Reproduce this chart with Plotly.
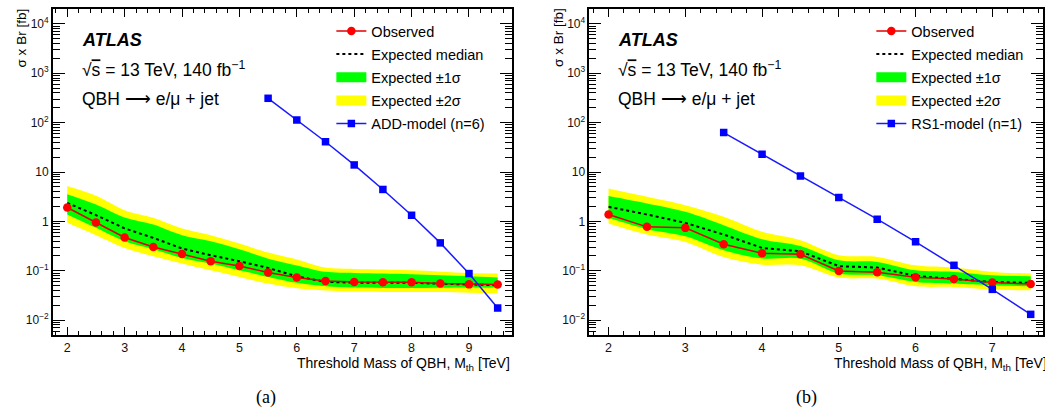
import plotly.graph_objects as go

W, H = 1045, 410

# ---------------- data: panel (a) ADD model ----------------
mass_a = [2.0, 2.5, 3.0, 3.5, 4.0, 4.5, 5.0, 5.5, 6.0, 6.5, 7.0, 7.5, 8.0, 8.5, 9.0, 9.5]
obs_a = [1.91, 0.95, 0.471, 0.304, 0.219, 0.156, 0.125, 0.092, 0.073, 0.062, 0.059, 0.0585, 0.0585, 0.055, 0.053, 0.0525]
exp_a = [2.37, 1.34, 0.72, 0.463, 0.282, 0.206, 0.156, 0.114, 0.077, 0.0595, 0.0575, 0.057, 0.057, 0.0545, 0.052, 0.051]
p2_a = [5.18, 3.30, 1.69, 1.18, 0.716, 0.525, 0.356, 0.233, 0.17, 0.116, 0.109, 0.106, 0.102, 0.096, 0.090, 0.0877]
p1_a = [3.56, 2.20, 1.20, 0.863, 0.525, 0.396, 0.273, 0.176, 0.128, 0.095, 0.090, 0.0877, 0.085, 0.081, 0.0774, 0.0728]
m1_a = [1.38, 0.739, 0.396, 0.273, 0.182, 0.140, 0.102, 0.075, 0.057, 0.0485, 0.0456, 0.0449, 0.0449, 0.0455, 0.046, 0.046]
m2_a = [0.933, 0.525, 0.290, 0.197, 0.140, 0.102, 0.075, 0.055, 0.044, 0.040, 0.0378, 0.0372, 0.0372, 0.037, 0.036, 0.0355]
model_mass_a = [5.5, 6.0, 6.5, 7.0, 7.5, 8.0, 8.5, 9.0, 9.5]
model_a = [311, 113, 41, 13.9, 4.43, 1.33, 0.367, 0.0877, 0.0176]

# ---------------- data: panel (b) RS1 model ----------------
mass_b = [2.0, 2.5, 3.0, 3.5, 4.0, 4.5, 5.0, 5.5, 6.0, 6.5, 7.0, 7.5]
obs_b = [1.38, 0.775, 0.739, 0.345, 0.226, 0.216, 0.0993, 0.0933, 0.0738, 0.0684, 0.0576, 0.0541]
exp_b = [1.97, 1.38, 0.933, 0.541, 0.290, 0.248, 0.124, 0.116, 0.0787, 0.0694, 0.0594, 0.0567]
p2_b = [4.64, 3.15, 2.13, 1.24, 0.614, 0.416, 0.207, 0.191, 0.129, 0.116, 0.0948, 0.0877]
p1_b = [3.25, 2.30, 1.56, 0.838, 0.436, 0.319, 0.163, 0.151, 0.102, 0.0948, 0.081, 0.0774]
m1_b = [1.18, 0.695, 0.501, 0.261, 0.177, 0.177, 0.0877, 0.081, 0.0594, 0.055, 0.0508, 0.0485]
m2_b = [0.906, 0.541, 0.384, 0.190, 0.133, 0.129, 0.0728, 0.0694, 0.0485, 0.047, 0.0415, 0.0403]
model_mass_b = [3.5, 4.0, 4.5, 5.0, 5.5, 6.0, 6.5, 7.0, 7.5]
model_b = [63, 22.8, 8.34, 3.06, 1.11, 0.385, 0.129, 0.042, 0.0131]

# ---------------- tick labels ----------------
y_tickvals = [0.01, 0.1, 1, 10, 100, 1000, 10000]
y_ticktext = ["10<sup>−2</sup>", "10<sup>−1</sup>", "1", "10", "10<sup>2</sup>", "10<sup>3</sup>", "10<sup>4</sup>"]
x_tickvals_a = [2, 3, 4, 5, 6, 7, 8, 9]
x_tickvals_b = [2, 3, 4, 5, 6, 7]

model_names = ["ADD-model (n=6)", "RS1-model (n=1)"]
panel_labels = ["(a)", "(b)"]

FONT = "Liberation Sans, Arial, sans-serif"
YELLOW = "#ffff00"
GREEN = "#00ff00"


def px(xp):
    return xp / W


def py(yp):
    return 1 - yp / H


fig = go.Figure()


def add_panel(mass, obs, exp, p2, p1, m1, m2, mmass, model, mname, xa, ya, leg):
    common = dict(xaxis=xa, yaxis=ya, legend=leg, hoverinfo="skip")
    edge = dict(width=0, shape="spline", smoothing=0.9)
    fig.add_trace(go.Scatter(x=mass, y=m2, mode="lines", line=edge, showlegend=False, **common))
    fig.add_trace(go.Scatter(x=mass, y=p2, mode="lines", line=edge, fill="tonexty", fillcolor=YELLOW,
                             showlegend=False, **common))
    fig.add_trace(go.Scatter(x=mass, y=m1, mode="lines", line=edge, showlegend=False, **common))
    fig.add_trace(go.Scatter(x=mass, y=p1, mode="lines", line=edge, fill="tonexty", fillcolor=GREEN,
                             showlegend=False, **common))
    fig.add_trace(go.Scatter(x=mass, y=exp, mode="lines", line=dict(color="black", width=2, dash="3px,3px"),
                             name="Expected median", legendgroup=leg + "e", legendrank=2, **common))
    fig.add_trace(go.Scatter(x=mass, y=obs, mode="lines+markers", line=dict(color="#e00000", width=1.5),
                             marker=dict(symbol="circle", size=8.5, color="#ff0000"),
                             name="Observed", legendgroup=leg + "o", legendrank=1, **common))
    fig.add_trace(go.Scatter(x=mmass, y=model, mode="lines+markers", line=dict(color="#1a1aff", width=1.5),
                             marker=dict(symbol="square", size=7.5, color="#0000ff"),
                             name=mname, legendgroup=leg + "m", legendrank=5, **common))
    # legend swatches for the bands (legend-only entries)
    fig.add_trace(go.Scatter(x=[None], y=[None], mode="lines", line=dict(color=GREEN, width=10),
                             name="Expected ±1σ", legendgroup=leg + "g", legendrank=3, **common))
    fig.add_trace(go.Scatter(x=[None], y=[None], mode="lines", line=dict(color=YELLOW, width=10),
                             name="Expected ±2σ", legendgroup=leg + "y", legendrank=4, **common))


add_panel(mass_a, obs_a, exp_a, p2_a, p1_a, m1_a, m2_a, model_mass_a, model_a, model_names[0], "x", "y", "legend")
add_panel(mass_b, obs_b, exp_b, p2_b, p1_b, m1_b, m2_b, model_mass_b, model_b, model_names[1], "x2", "y2", "legend2")

ydom = [py(335), py(9)]
yrange = [-2.301, 4.301]


def xaxis(domain, rng, tickvals, anchor):
    return dict(domain=domain, range=rng, anchor=anchor, showgrid=False, zeroline=False,
                showline=True, linecolor="black", linewidth=1.6, mirror="allticks",
                ticks="inside", ticklen=8, tickwidth=1, tickcolor="black",
                tickvals=tickvals, ticktext=[str(v) for v in tickvals],
                tickfont=dict(family=FONT, size=12.5, color="#111"),
                minor=dict(dtick=0.2, tick0=0, ticks="inside", ticklen=4, tickwidth=1, tickcolor="black"))


def yaxis(anchor):
    return dict(domain=ydom, type="log", range=yrange, anchor=anchor, showgrid=False, zeroline=False,
                showline=True, linecolor="black", linewidth=1.6, mirror="allticks",
                ticks="inside", ticklen=12, tickwidth=1, tickcolor="black",
                tickvals=y_tickvals, ticktext=y_ticktext,
                tickfont=dict(family=FONT, size=12, color="#111"),
                minor=dict(dtick="D1", ticks="inside", ticklen=7, tickwidth=1, tickcolor="black"))


xr_b_end = 1.75 + (W - 590.5) / 76.9

legend_common = dict(xanchor="left", yanchor="top", bgcolor="rgba(0,0,0,0)",
                     font=dict(family=FONT, size=14.5, color="black"),
                     tracegroupgap=1.3, traceorder="grouped", itemwidth=30)

fig.update_layout(
    width=W, height=H, margin=dict(l=0, r=0, t=0, b=0),
    paper_bgcolor="white", plot_bgcolor="white",
    xaxis=xaxis([px(53), px(513)], [1.75, 9.75], x_tickvals_a, "y"),
    yaxis=yaxis("x"),
    xaxis2=xaxis([px(590.5), 1.0], [1.75, xr_b_end], x_tickvals_b, "y2"),
    yaxis2=yaxis("x2"),
    legend=dict(x=px(332), y=py(15), **legend_common),
    legend2=dict(x=px(873), y=py(15), **legend_common),
    font=dict(family=FONT, color="black"),
)

ann = []
for (x0, xr) in [(53, 513), (590.5, 1051.5)]:
    ann.append(dict(text="<b><i>ATLAS</i></b>", x=px(x0 + 27), y=py(40), xref="paper", yref="paper",
                    xanchor="left", yanchor="middle", showarrow=False, font=dict(family=FONT, size=18)))
    ann.append(dict(text="√<span style='text-decoration:overline'>s</span> = 13 TeV, 140 fb<sup>−1</sup>",
                    x=px(x0 + 27), y=py(69), xref="paper", yref="paper",
                    xanchor="left", yanchor="middle", showarrow=False, font=dict(family=FONT, size=17.5)))
    ann.append(dict(text="QBH ⟶ e/μ + jet", x=px(x0 + 27), y=py(99), xref="paper", yref="paper",
                    xanchor="left", yanchor="middle", showarrow=False, font=dict(family=FONT, size=17.5)))
    ann.append(dict(text="Threshold Mass of QBH, M<sub>th</sub> [TeV]", x=px(xr), y=py(364),
                    xref="paper", yref="paper", xanchor="right", yanchor="middle", showarrow=False,
                    font=dict(family=FONT, size=14)))
    ann.append(dict(text="σ x Br [fb]", x=px(x0 - 31), y=py(6), xref="paper", yref="paper",
                    xanchor="center", yanchor="top", textangle=-90, showarrow=False,
                    font=dict(family=FONT, size=13.5)))
for lab, lx in zip(panel_labels, [267, 808]):
    ann.append(dict(text=lab, x=px(lx), y=py(397), xref="paper", yref="paper",
                    xanchor="center", yanchor="middle", showarrow=False,
                    font=dict(family="Liberation Serif, Times New Roman, serif", size=18)))
fig.update_layout(annotations=ann)

fig.write_html("out.html")
